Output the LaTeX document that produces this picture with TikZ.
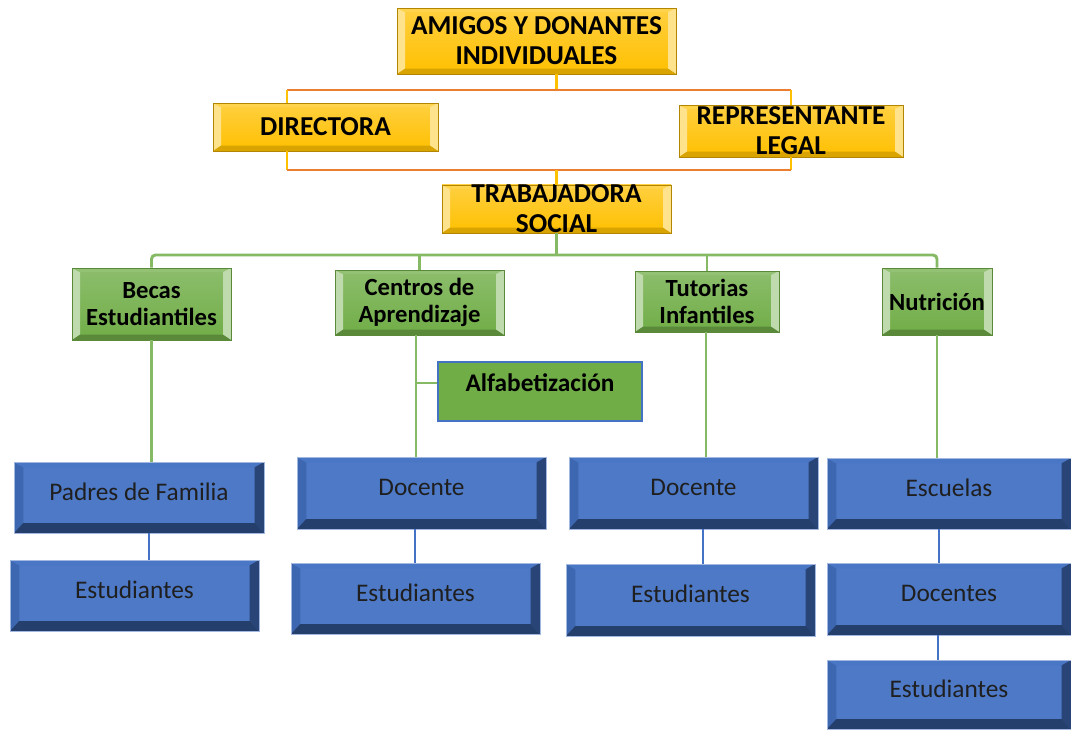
\documentclass[tikz,border=0pt]{standalone}
\usepackage{fontspec}
\setmainfont{Carlito}
\usetikzlibrary{calc, positioning}
\definecolor{xgold}{HTML}{FFC000}
\definecolor{xorange}{HTML}{ED7D31}
\definecolor{xgreen}{HTML}{70AD47}
\definecolor{xblue}{HTML}{4472C4}
\colorlet{xdarkblue}{xblue!60!black}
% bevel faces drawn inside a node: left, top, right, bottom colours; side, top, bottom widths
\newcommand\bevelfaces[7]{%
  \path (path picture bounding box.south west) coordinate (o1)
        (path picture bounding box.north east) coordinate (o2);
  \coordinate (i1) at ($(o1)+(#5,#7)$);
  \coordinate (i2) at ($(o2)-(#5,#6)$);
  \fill[#1] (o1) -- (o1|-o2) -- (i1|-i2) -- (i1) -- cycle;
  \fill[#2] (o1|-o2) -- (o2) -- (i2) -- (i1|-i2) -- cycle;
  \fill[#3] (o2) -- (o2|-o1) -- (i2|-i1) -- (i2) -- cycle;
  \fill[#4] (o2|-o1) -- (o1) -- (i1) -- (i2|-i1) -- cycle;
}
\tikzset{
  sz/.style 2 args = {minimum width={#1*0.75pt}, minimum height={#2*0.75pt}},
  yellowbox/.style = {draw=xgold!70!black, line width=0.4pt, top color=xgold!75!white, bottom color=xgold,
    inner sep=0pt, align=center, font=\fontsize{20.5}{22.5}\selectfont\bfseries,
    path picture={\bevelfaces{xgold!45!white}{xgold!70!white}{xgold!45!white}{xgold!85!black}{6pt}{3pt}{4pt}}},
  greenbox/.style = {draw=xgreen!80!black, line width=0.4pt, top color=xgreen!80!white, bottom color=xgreen,
    inner sep=0pt, align=center, font=\fontsize{18.5}{20.5}\selectfont\bfseries,
    path picture={\bevelfaces{xgreen!45!white}{xgreen!75!white}{xgreen!45!white}{xgreen!80!black}{6pt}{3pt}{4pt}}},
  bluebox/.style = {draw=xblue!50!white, line width=0.5pt, fill=xblue!95!white,
    inner sep=0pt, text depth=9pt, font=\fontsize{19}{22}\selectfont, text=black!88,
    path picture={\bevelfaces{xblue!90!black}{xblue!97!white}{xblue!60!black}{xblue!55!black}{7pt}{4pt}{7.5pt}}},
  flatbox/.style = {draw=xblue, line width=0.8pt, fill=xgreen, inner sep=0pt, text depth=13pt,
    font=\fontsize{19}{22}\selectfont\bfseries},
  orangeline/.style = {line width=2.2pt, xorange},
  goldline/.style = {line width=2.2pt, xgold},
  greenline/.style = {line width=2.2pt, xgreen!85!white},
  blueline/.style = {line width=2pt, xblue},
}
\begin{document}
\begin{tikzpicture}[x=0.75pt, y=-0.75pt]
  \useasboundingbox (0,0) rectangle (1071,729);
  \coordinate (topbar) at (0,90);
  \coordinate (lowbar) at (0,170);
  \coordinate (gbar) at (0,255);
  \coordinate (dirx) at (287,0);

  % top levels
  \node[yellowbox, sz={279}{66}] (amigos) at (536.5,41) {AMIGOS Y DONANTES\\INDIVIDUALES};
  \node[yellowbox, sz={225}{48}] (directora) at (325.5,127) {DIRECTORA};
  \node[yellowbox, sz={224}{52}] (legal) at (791,131) {REPRESENTANTE\\LEGAL};
  \node[yellowbox, sz={229}{48}] (social) at (556.5,209) {TRABAJADORA\\SOCIAL};

  % programs
  \node[greenbox, sz={159}{72}] (becas) at (151.5,304) {Becas\\Estudiantiles};
  \node[greenbox, sz={169}{65}] (centros) at (419.5,302.5) {Centros de\\Aprendizaje};
  \node[greenbox, sz={144}{61}] (tutorias) at (707,301.5) {Tutorias\\Infantiles};
  \node[greenbox, sz={110}{67}] (nutricion) at (937,301.5) {Nutrición};
  \node[flatbox, sz={204}{59}] (alfabet) at (540,391.5) {Alfabetización};

  % beneficiaries
  \node[bluebox, sz={250}{71}] (padres) at (139,497.5) {Padres de Familia};
  \node[bluebox, sz={249}{71}] (estA) at (134.5,595.5) {Estudiantes};
  \node[bluebox, sz={249}{72}] (docA) at (421.5,493) {Docente};
  \node[bluebox, sz={249}{71}] (estB) at (415.5,598.5) {Estudiantes};
  \node[bluebox, sz={249}{72}] (docB) at (693.5,493) {Docente};
  \node[bluebox, sz={249}{72}] (estC) at (690.5,600) {Estudiantes};
  \node[bluebox, sz={244}{71}] (escuelas) at (949,493.5) {Escuelas};
  \node[bluebox, sz={244}{72}] (docentes) at (949,599) {Docentes};
  \node[bluebox, sz={244}{69}] (estD) at (949,694.5) {Estudiantes};

  % orange links
  \draw[goldline] (amigos.south -| social) -- (topbar -| social);
  \draw[orangeline] (topbar -| dirx) -- (topbar -| legal);
  \draw[goldline] (topbar -| dirx) -- (directora.north -| dirx);
  \draw[goldline] (topbar -| legal) -- (legal.north);
  \draw[goldline] (directora.south -| dirx) -- (lowbar -| dirx);
  \draw[goldline] (legal.south) -- (lowbar -| legal);
  \draw[orangeline] (lowbar -| dirx) -- (lowbar -| legal);
  \draw[goldline] (lowbar -| social) -- (social.north);

  % green links
  \draw[greenline] (social.south) -- (gbar -| social);
  \draw[greenline, rounded corners=3pt] (becas.north) -- (gbar -| becas) -- (gbar -| nutricion) -- (nutricion.north);
  \draw[greenline] (gbar -| centros) -- (centros.north);
  \draw[greenline] (gbar -| tutorias) -- (tutorias.north);
  \draw[greenline] (becas.south) -- (becas.south |- padres.north);
  \draw[greenline] (centros.south -| 416,0) -- (docA.north -| 416,0);
  \draw[greenline] (alfabet.west |- 0,383) -- (416,383);
  \draw[greenline] (tutorias.south -| 706,0) -- (docB.north -| 706,0);
  \draw[greenline] (nutricion.south) -- (nutricion.south |- escuelas.north);

  % blue links
  \draw[blueline] (padres.south -| 149,0) -- (estA.north -| 149,0);
  \draw[blueline] (docA.south -| 415,0) -- (estB.north -| 415,0);
  \draw[blueline] (docB.south -| 703,0) -- (estC.north -| 703,0);
  \draw[blueline] (escuelas.south -| 939,0) -- (docentes.north -| 939,0);
  \draw[blueline] (docentes.south -| 938,0) -- (estD.north -| 938,0);
\end{tikzpicture}
\end{document}
